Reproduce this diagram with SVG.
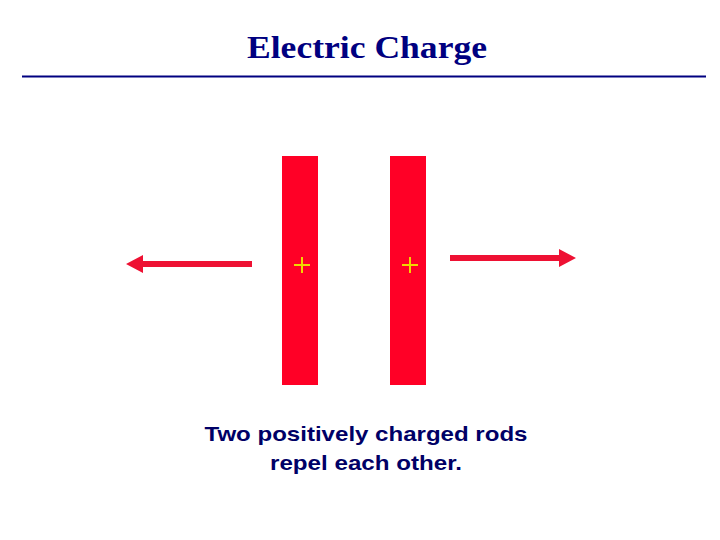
<svg xmlns="http://www.w3.org/2000/svg" width="720" height="540" viewBox="0 0 720 540">
<style>.rod{fill:#ff0026}.arr{fill:#ee1133}.plus{stroke:#f0d800;stroke-width:2}.cap{font-family:"Liberation Sans",sans-serif;font-weight:bold;font-size:21px;fill:#000066;text-anchor:middle}</style>
<rect width="720" height="540" fill="#fff"/>
<text x="367" y="58" font-family="Liberation Serif,serif" font-weight="bold" font-size="32" fill="#000080" text-anchor="middle" textLength="240" lengthAdjust="spacingAndGlyphs">Electric Charge</text>
<line x1="22" y1="76.5" x2="706" y2="76.5" stroke="#000080" stroke-width="2"/>
<g id="rod1"><rect class="rod" x="282" y="156" width="36" height="229"/><path class="plus" d="M294,265H310M302,257V273"/></g>
<g id="rod2"><rect class="rod" x="390" y="156" width="36" height="229"/><path class="plus" d="M402,265H418M410,257V273"/></g>
<g id="connectors">
<path class="arr" d="M252,261V267H143V273L126,264L143,255V261Z"/>
<path class="arr" d="M450,255V261H559V267L576,258L559,249V255Z"/>
</g>
<g id="caption"><text class="cap" x="366" y="441" textLength="323" lengthAdjust="spacingAndGlyphs">Two positively charged rods</text><text class="cap" x="366" y="470" textLength="192" lengthAdjust="spacingAndGlyphs">repel each other.</text></g>
</svg>
